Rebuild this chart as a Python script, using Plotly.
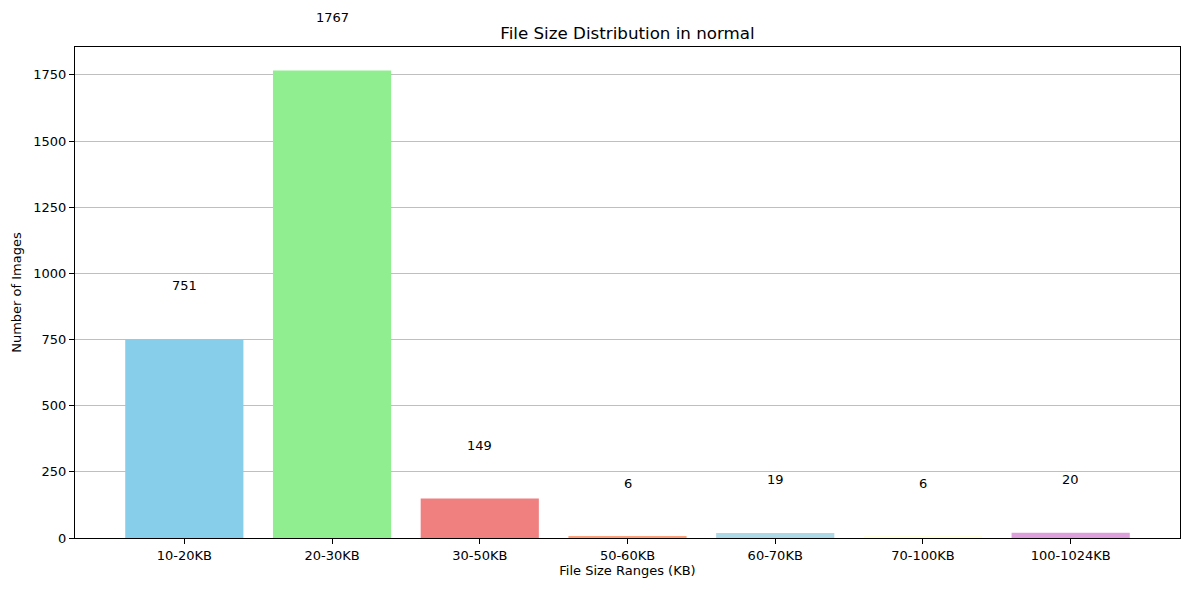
import plotly.graph_objects as go

# File size buckets and image counts
ranges = ["10-20KB", "20-30KB", "30-50KB", "50-60KB", "60-70KB", "70-100KB", "100-1024KB"]
counts = [751, 1767, 149, 6, 19, 6, 20]
bar_colors = ["#87CEEB", "#90EE90", "#F08080", "#FFA07A", "#ADD8E6", "#FFFFE0", "#DDA0DD"]

font = "DejaVu Sans, Verdana, sans-serif"
W, H = 1189, 591
# page body adds an 8px offset, margins are set to compensate
m = dict(l=67, r=17, t=39, b=61)
y_top = 1.05 * max(counts)
px_per_unit = (H - m["t"] - m["b"]) / y_top
label_offset = 0.1 * max(counts)

fig = go.Figure(
    go.Bar(x=list(range(len(ranges))), y=counts, width=0.8,
           marker=dict(color=bar_colors, line=dict(width=0)))
)

# Count labels sit above each bar, like plt.text(..., va="bottom")
for i, c in enumerate(counts):
    fig.add_annotation(
        x=i, y=c, yshift=label_offset * px_per_unit - 3, text=str(c), showarrow=False,
        yanchor="bottom", xanchor="center", font=dict(size=13, color="black"),
    )

fig.update_layout(
    width=W, height=H,
    paper_bgcolor="white", plot_bgcolor="white",
    font=dict(family=font, size=13, color="black"),
    margin=m,
    showlegend=False,
    title=dict(text="File Size Distribution in normal", x=(67 + (W - 67 - 17) / 2) / W,
               xanchor="center", y=1 - 25 / H, yanchor="middle", font=dict(size=16.7)),
)
fig.update_xaxes(
    range=[-0.74, 6.74], tickmode="array", tickvals=list(range(len(ranges))), ticktext=ranges,
    showgrid=False, zeroline=False, showline=True, linecolor="black", linewidth=1, mirror=True,
    ticks="outside", ticklen=5, tickcolor="black", automargin=False,
    title=dict(text="File Size Ranges (KB)", standoff=4, font=dict(size=13)),
)
fig.update_yaxes(
    range=[0, y_top], tickvals=[0, 250, 500, 750, 1000, 1250, 1500, 1750],
    showgrid=True, gridcolor="rgba(128,128,128,0.5)", gridwidth=1, zeroline=False,
    showline=True, linecolor="black", linewidth=1, mirror=True,
    ticks="outside", ticklen=5, tickcolor="black", automargin=False,
    title=dict(text="Number of Images", standoff=8, font=dict(size=13)),
)

fig.write_html("out.html")
